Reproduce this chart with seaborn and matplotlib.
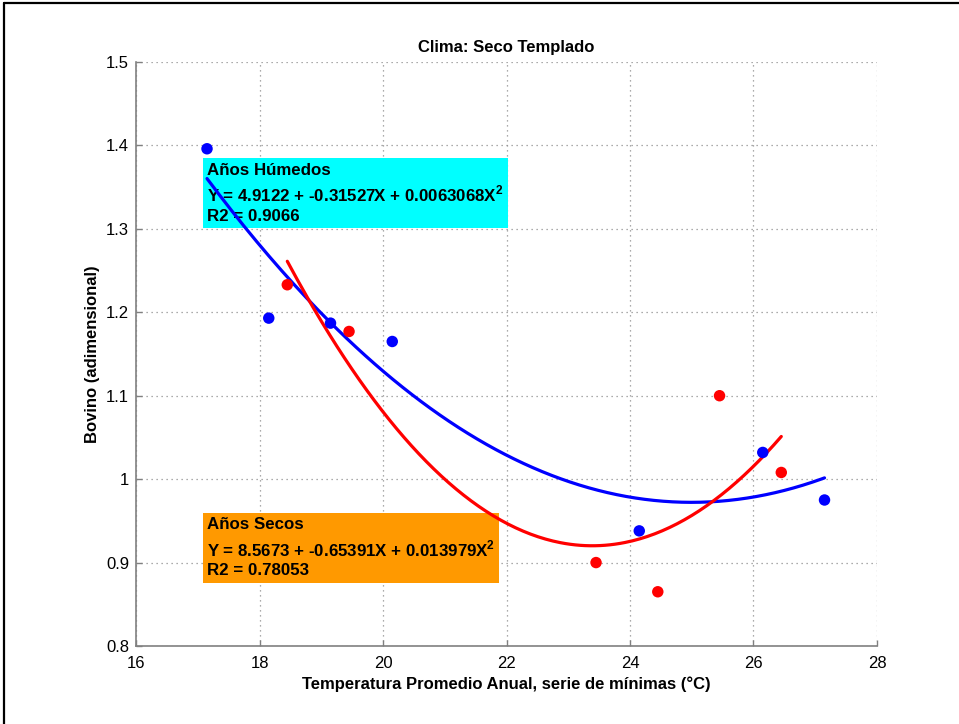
import numpy as np
import pandas as pd
import matplotlib
matplotlib.use("Agg")
import matplotlib.pyplot as plt
from matplotlib.lines import Line2D
import seaborn as sns

# ---- data ----
humid_x = [17.15, 18.15, 19.15, 20.15, 24.15, 26.15, 27.15]
humid_y = [1.396, 1.193, 1.187, 1.165, 0.938, 1.032, 0.975]
dry_x = [18.45, 19.45, 23.45, 24.45, 25.45, 26.45]
dry_y = [1.233, 1.177, 0.900, 0.865, 1.100, 1.008]

# quadratic fit coefficients shown on the chart (c0, c1, c2)
humid_coef = [4.9122, -0.31527, 0.0063068]
dry_coef = [8.5673, -0.65391, 0.013979]
humid_r2 = "0.9066"
dry_r2 = "0.78053"

title = "Clima: Seco Templado"
xlabel = "Temperatura Promedio Anual, serie de mínimas (°C)"
ylabel = "Bovino (adimensional)"
xticks = [16, 18, 20, 22, 24, 26, 28]
yticks = [0.8, 0.9, 1.0, 1.1, 1.2, 1.3, 1.4, 1.5]
yticklabels = ["0.8", "0.9", "1", "1.1", "1.2", "1.3", "1.4", "1.5"]

sns.set_style("white")
plt.rcParams["font.family"] = ["Liberation Sans", "DejaVu Sans"]
plt.rcParams["mathtext.fontset"] = "custom"
plt.rcParams["mathtext.rm"] = "Liberation Sans"
plt.rcParams["mathtext.bf"] = "Liberation Sans:bold"
plt.rcParams["text.color"] = "black"
plt.rcParams["axes.labelcolor"] = "black"
plt.rcParams["xtick.color"] = "black"
plt.rcParams["ytick.color"] = "black"

fig = plt.figure(figsize=(9.59, 7.24), dpi=100)
ax = fig.add_axes([136 / 959, 1 - 646 / 724, (877 - 136) / 959, (646 - 62) / 724])

def curve(coef, xs):
    xg = np.linspace(min(xs), max(xs), 200)
    return pd.DataFrame({"x": xg, "y": np.polyval(coef[::-1], xg)})

hc = curve(humid_coef, humid_x)
dc = curve(dry_coef, dry_x)

sns.lineplot(data=hc, x="x", y="y", color="#0000FF", linewidth=2.3, ax=ax, zorder=3)
sns.lineplot(data=dc, x="x", y="y", color="#FF0000", linewidth=2.3, ax=ax, zorder=3)
sns.scatterplot(x=humid_x, y=humid_y, color="#0000FF", s=68, edgecolor="none", ax=ax, zorder=4)
sns.scatterplot(x=dry_x, y=dry_y, color="#FF0000", s=68, edgecolor="none", ax=ax, zorder=4)

ax.set_xlim(16, 28)
ax.set_ylim(0.8, 1.5)
ax.set_xticks(xticks)
ax.set_xticklabels([str(t) for t in xticks], fontsize=12)
ax.set_yticks(yticks)
ax.set_yticklabels(yticklabels, fontsize=12)
ax.grid(True, linestyle=(0, (1, 3)), color="#909090", linewidth=0.9)
ax.set_axisbelow(True)
for s in ["top", "right"]:
    ax.spines[s].set_visible(False)
for s in ["left", "bottom"]:
    ax.spines[s].set_color("#808080")
    ax.spines[s].set_linewidth(1.2)
ax.tick_params(direction="in", length=4, color="#808080", width=1,
               left=True, bottom=True, pad=5, labelcolor="black")
ax.tick_params(axis="x", pad=7)

ax.set_title(title, fontsize=12, fontweight="bold", pad=7, color="black")
ax.set_xlabel(xlabel, fontsize=12, fontweight="bold", labelpad=4, color="black")
ax.set_ylabel(ylabel, fontsize=12, fontweight="bold", labelpad=4, color="black")

sup = r"$^{\mathbf{2}}$"
humid_txt = ("Años Húmedos\n"
             f"Y = {humid_coef[0]} + {humid_coef[1]}X + {humid_coef[2]}X" + sup +
             f"\nR2 = {humid_r2}")
dry_txt = ("Años Secos\n"
           f"Y = {dry_coef[0]} + {dry_coef[1]}X + {dry_coef[2]}X" + sup +
           f"\nR2 = {dry_r2}")

ax.text(17.15, 1.3795, humid_txt, fontsize=12.2, fontweight="bold", va="top", ha="left",
        linespacing=1.36, zorder=2, color="black",
        bbox=dict(facecolor="#00FFFF", edgecolor="none", boxstyle="square,pad=0.25"))
ax.text(17.15, 0.9545, dry_txt, fontsize=12.2, fontweight="bold", va="top", ha="left",
        linespacing=1.36, zorder=2, color="black",
        bbox=dict(facecolor="#FF9900", edgecolor="none", boxstyle="square,pad=0.25"))

# screenshot frame (left and top edges)
fig.add_artist(Line2D([4 / 959, 4 / 959], [0, 1 - 3 / 724], transform=fig.transFigure,
                      color="black", linewidth=1.6))
fig.add_artist(Line2D([4 / 959, 1], [1 - 3 / 724, 1 - 3 / 724], transform=fig.transFigure,
                      color="black", linewidth=1.6))

fig.savefig("out.png", dpi=100)
